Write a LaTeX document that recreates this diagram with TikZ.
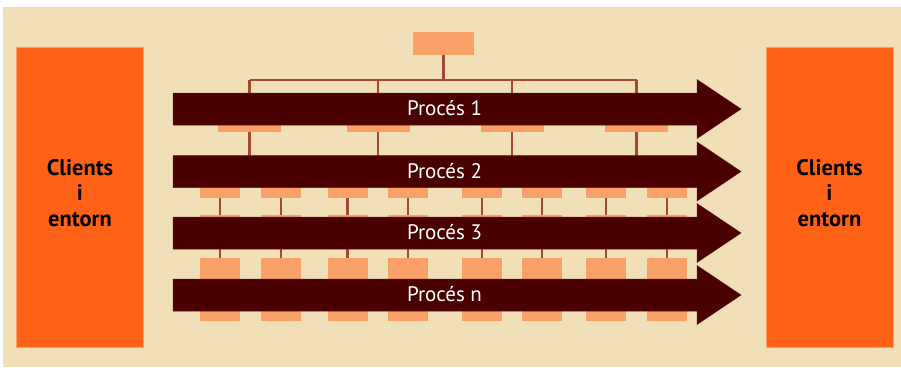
\documentclass[tikz,border=0pt]{standalone}
\usepackage{fontspec}
\setmainfont{PT Sans}
\definecolor{bgc}{HTML}{F1E0B7}
\definecolor{orangec}{HTML}{FF6116}
\definecolor{peach}{HTML}{F9A068}
\definecolor{arrowc}{HTML}{4B0000}
\definecolor{linec}{HTML}{A44A32}
\tikzset{
  client/.style={fill=orangec, draw=peach, line width=0.8pt, minimum width=127pt, minimum height=300pt, inner sep=0pt},
  clienttext/.style={align=center, font=\bfseries\fontsize{22.5}{25.5}\selectfont, text=black},
  wideunit/.style={fill=peach, minimum width=63pt, minimum height=20pt, inner sep=0pt},
  unit/.style={fill=peach, minimum width=40pt, inner sep=0pt},
  conn/.style={draw=linec, line width=2.2pt},
  procarrow/.style={fill=arrowc, draw=arrowc!70!linec, line width=0.5pt},
  proctext/.style={text=white, font=\fontsize{21}{24}\selectfont, anchor=base, inner sep=0pt}
}
\begin{document}
\begin{tikzpicture}[x=1pt, y=-1pt]
\useasboundingbox (0,0) rectangle (901,367);
\fill[bgc] (3,7) rectangle (901,367);
% clients boxes
\node[client] (cl) at (80,197) {};
\node[client] (cr) at (829.5,197) {};
\node[clienttext] (clt) at (80,193) {Clients\\i\\entorn};
\node[clienttext] (crt) at (829.5,193) {Clients\\i\\entorn};
% top unit
\node[fill=peach, minimum width=61pt, minimum height=23pt, inner sep=0pt] (top) at (443.5,43.5) {};
\coordinate (bus) at (443.5,80);
\coordinate (busL) at (249.5,80);
\coordinate (busR) at (636.5,80);
% row A units (under Proces 1)
\foreach \i/\x in {1/249.5,2/378,3/512,4/636.5}{
  \node[wideunit] (A\i) at (\x,122) {};
  \coordinate (A\i t) at (\x,80);
  \coordinate (A\i d) at (\x,165);
}
% rows B, C, D
\foreach \i/\x in {1/220,2/281,3/347.5,4/408,5/482,6/542,7/606,8/667}{
  \node[unit, minimum height=21pt] (B\i) at (\x,187.5) {};
  \node[unit, minimum height=34pt] (C\i) at (\x,232) {};
  \node[unit, minimum height=63pt] (D\i) at (\x,289.5) {};
}
% connectors
\draw[conn] (top.south) -- (bus);
\draw[conn] (busL) -- (busR);
\foreach \i in {1,...,4}{
  \draw[conn] (A\i t) -- (A\i.north);
  \draw[conn] (A\i.south) -- (A\i d);
}
\foreach \i in {1,...,8}{
  \draw[conn] (B\i.south) -- (C\i.north);
  \draw[conn] (C\i.south) -- (D\i.north);
}
% process arrows
\foreach \k/\y/\t in {1/109/Procés 1,2/171.5/Procés 2,3/233/Procés 3,4/295/Procés n}{
  \path[procarrow] (173,\y-16) -- (697,\y-16) -- (697,\y-29.5) -- (741,\y)
     -- (697,\y+29.5) -- (697,\y+16) -- (173,\y+16) -- cycle;
  \node[proctext] (P\k) at (444.5,\y+6.5) {\t};
}
\end{tikzpicture}
\end{document}
